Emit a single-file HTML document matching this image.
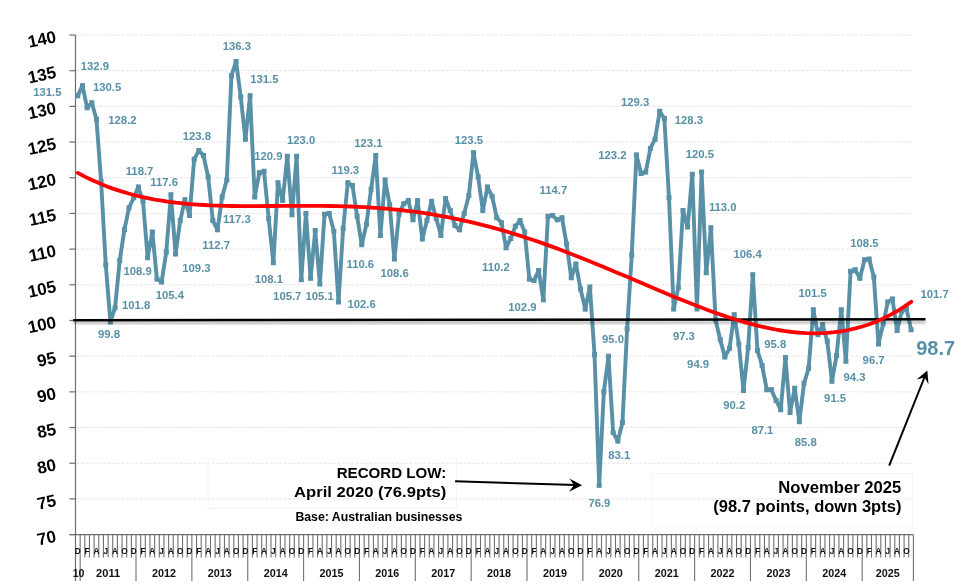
<!DOCTYPE html>
<html><head><meta charset="utf-8"><title>Business Confidence</title>
<style>html,body{margin:0;padding:0;background:#fff;}body{width:968px;height:587px;overflow:hidden;}svg{display:block;will-change:transform;}</style>
</head><body>
<svg width="968" height="587" viewBox="0 0 968 587">
<defs><filter id="sh" x="-5%" y="-200%" width="110%" height="500%"><feGaussianBlur stdDeviation="1.2"/></filter></defs>
<line x1="76.5" y1="498.90" x2="913.4" y2="498.90" stroke="#e5e5e5" stroke-width="1" stroke-dasharray="3 1.5"/>
<line x1="76.5" y1="463.22" x2="913.4" y2="463.22" stroke="#e5e5e5" stroke-width="1" stroke-dasharray="3 1.5"/>
<line x1="76.5" y1="427.53" x2="913.4" y2="427.53" stroke="#e5e5e5" stroke-width="1" stroke-dasharray="3 1.5"/>
<line x1="76.5" y1="391.85" x2="913.4" y2="391.85" stroke="#e5e5e5" stroke-width="1" stroke-dasharray="3 1.5"/>
<line x1="76.5" y1="356.16" x2="913.4" y2="356.16" stroke="#e5e5e5" stroke-width="1" stroke-dasharray="3 1.5"/>
<line x1="76.5" y1="320.48" x2="913.4" y2="320.48" stroke="#e5e5e5" stroke-width="1" stroke-dasharray="3 1.5"/>
<line x1="76.5" y1="284.79" x2="913.4" y2="284.79" stroke="#e5e5e5" stroke-width="1" stroke-dasharray="3 1.5"/>
<line x1="76.5" y1="249.11" x2="913.4" y2="249.11" stroke="#e5e5e5" stroke-width="1" stroke-dasharray="3 1.5"/>
<line x1="76.5" y1="213.42" x2="913.4" y2="213.42" stroke="#e5e5e5" stroke-width="1" stroke-dasharray="3 1.5"/>
<line x1="76.5" y1="177.74" x2="913.4" y2="177.74" stroke="#e5e5e5" stroke-width="1" stroke-dasharray="3 1.5"/>
<line x1="76.5" y1="142.06" x2="913.4" y2="142.06" stroke="#e5e5e5" stroke-width="1" stroke-dasharray="3 1.5"/>
<line x1="76.5" y1="106.37" x2="913.4" y2="106.37" stroke="#e5e5e5" stroke-width="1" stroke-dasharray="3 1.5"/>
<line x1="76.5" y1="70.69" x2="913.4" y2="70.69" stroke="#e5e5e5" stroke-width="1" stroke-dasharray="3 1.5"/>
<line x1="76.5" y1="35.00" x2="913.4" y2="35.00" stroke="#e5e5e5" stroke-width="1" stroke-dasharray="3 1.5"/>
<line x1="75.5" y1="35.0" x2="75.5" y2="581" stroke="#6e6e6e" stroke-width="1.2"/>
<line x1="69.4" y1="534.59" x2="75.5" y2="534.59" stroke="#6e6e6e" stroke-width="1.2"/>
<line x1="69.4" y1="498.90" x2="75.5" y2="498.90" stroke="#6e6e6e" stroke-width="1.2"/>
<line x1="69.4" y1="463.22" x2="75.5" y2="463.22" stroke="#6e6e6e" stroke-width="1.2"/>
<line x1="69.4" y1="427.53" x2="75.5" y2="427.53" stroke="#6e6e6e" stroke-width="1.2"/>
<line x1="69.4" y1="391.85" x2="75.5" y2="391.85" stroke="#6e6e6e" stroke-width="1.2"/>
<line x1="69.4" y1="356.16" x2="75.5" y2="356.16" stroke="#6e6e6e" stroke-width="1.2"/>
<line x1="69.4" y1="320.48" x2="75.5" y2="320.48" stroke="#6e6e6e" stroke-width="1.2"/>
<line x1="69.4" y1="284.79" x2="75.5" y2="284.79" stroke="#6e6e6e" stroke-width="1.2"/>
<line x1="69.4" y1="249.11" x2="75.5" y2="249.11" stroke="#6e6e6e" stroke-width="1.2"/>
<line x1="69.4" y1="213.42" x2="75.5" y2="213.42" stroke="#6e6e6e" stroke-width="1.2"/>
<line x1="69.4" y1="177.74" x2="75.5" y2="177.74" stroke="#6e6e6e" stroke-width="1.2"/>
<line x1="69.4" y1="142.06" x2="75.5" y2="142.06" stroke="#6e6e6e" stroke-width="1.2"/>
<line x1="69.4" y1="106.37" x2="75.5" y2="106.37" stroke="#6e6e6e" stroke-width="1.2"/>
<line x1="69.4" y1="70.69" x2="75.5" y2="70.69" stroke="#6e6e6e" stroke-width="1.2"/>
<line x1="69.4" y1="35.00" x2="75.5" y2="35.00" stroke="#6e6e6e" stroke-width="1.2"/>
<line x1="69.4" y1="534.7" x2="913.40" y2="534.7" stroke="#6e6e6e" stroke-width="1.2"/>
<path d="M80.16 534.7V581 M84.81 534.7V557.5 M89.47 534.7V557.5 M94.12 534.7V557.5 M98.78 534.7V557.5 M103.43 534.7V557.5 M108.09 534.7V557.5 M112.74 534.7V557.5 M117.40 534.7V557.5 M122.05 534.7V557.5 M126.71 534.7V557.5 M131.36 534.7V557.5 M136.01 534.7V581 M140.67 534.7V557.5 M145.32 534.7V557.5 M149.98 534.7V557.5 M154.63 534.7V557.5 M159.29 534.7V557.5 M163.94 534.7V557.5 M168.60 534.7V557.5 M173.25 534.7V557.5 M177.91 534.7V557.5 M182.56 534.7V557.5 M187.22 534.7V557.5 M191.88 534.7V581 M196.53 534.7V557.5 M201.19 534.7V557.5 M205.84 534.7V557.5 M210.50 534.7V557.5 M215.15 534.7V557.5 M219.81 534.7V557.5 M224.46 534.7V557.5 M229.12 534.7V557.5 M233.77 534.7V557.5 M238.43 534.7V557.5 M243.08 534.7V557.5 M247.74 534.7V581 M252.39 534.7V557.5 M257.05 534.7V557.5 M261.70 534.7V557.5 M266.36 534.7V557.5 M271.01 534.7V557.5 M275.67 534.7V557.5 M280.32 534.7V557.5 M284.98 534.7V557.5 M289.63 534.7V557.5 M294.29 534.7V557.5 M298.94 534.7V557.5 M303.60 534.7V581 M308.25 534.7V557.5 M312.90 534.7V557.5 M317.56 534.7V557.5 M322.22 534.7V557.5 M326.87 534.7V557.5 M331.53 534.7V557.5 M336.18 534.7V557.5 M340.84 534.7V557.5 M345.49 534.7V557.5 M350.15 534.7V557.5 M354.80 534.7V557.5 M359.46 534.7V581 M364.11 534.7V557.5 M368.77 534.7V557.5 M373.42 534.7V557.5 M378.07 534.7V557.5 M382.73 534.7V557.5 M387.38 534.7V557.5 M392.04 534.7V557.5 M396.69 534.7V557.5 M401.35 534.7V557.5 M406.00 534.7V557.5 M410.66 534.7V557.5 M415.31 534.7V581 M419.97 534.7V557.5 M424.62 534.7V557.5 M429.28 534.7V557.5 M433.94 534.7V557.5 M438.59 534.7V557.5 M443.25 534.7V557.5 M447.90 534.7V557.5 M452.56 534.7V557.5 M457.21 534.7V557.5 M461.87 534.7V557.5 M466.52 534.7V557.5 M471.18 534.7V581 M475.83 534.7V557.5 M480.49 534.7V557.5 M485.14 534.7V557.5 M489.80 534.7V557.5 M494.45 534.7V557.5 M499.11 534.7V557.5 M503.76 534.7V557.5 M508.42 534.7V557.5 M513.07 534.7V557.5 M517.73 534.7V557.5 M522.38 534.7V557.5 M527.04 534.7V581 M531.69 534.7V557.5 M536.35 534.7V557.5 M541.00 534.7V557.5 M545.65 534.7V557.5 M550.31 534.7V557.5 M554.97 534.7V557.5 M559.62 534.7V557.5 M564.28 534.7V557.5 M568.93 534.7V557.5 M573.59 534.7V557.5 M578.24 534.7V557.5 M582.89 534.7V581 M587.55 534.7V557.5 M592.21 534.7V557.5 M596.86 534.7V557.5 M601.51 534.7V557.5 M606.17 534.7V557.5 M610.83 534.7V557.5 M615.48 534.7V557.5 M620.13 534.7V557.5 M624.79 534.7V557.5 M629.45 534.7V557.5 M634.10 534.7V557.5 M638.75 534.7V581 M643.41 534.7V557.5 M648.07 534.7V557.5 M652.72 534.7V557.5 M657.38 534.7V557.5 M662.03 534.7V557.5 M666.69 534.7V557.5 M671.34 534.7V557.5 M676.00 534.7V557.5 M680.65 534.7V557.5 M685.31 534.7V557.5 M689.96 534.7V557.5 M694.62 534.7V581 M699.27 534.7V557.5 M703.93 534.7V557.5 M708.58 534.7V557.5 M713.24 534.7V557.5 M717.89 534.7V557.5 M722.55 534.7V557.5 M727.20 534.7V557.5 M731.86 534.7V557.5 M736.51 534.7V557.5 M741.17 534.7V557.5 M745.82 534.7V557.5 M750.48 534.7V581 M755.13 534.7V557.5 M759.79 534.7V557.5 M764.44 534.7V557.5 M769.10 534.7V557.5 M773.75 534.7V557.5 M778.41 534.7V557.5 M783.06 534.7V557.5 M787.72 534.7V557.5 M792.37 534.7V557.5 M797.03 534.7V557.5 M801.68 534.7V557.5 M806.34 534.7V581 M810.99 534.7V557.5 M815.65 534.7V557.5 M820.30 534.7V557.5 M824.96 534.7V557.5 M829.61 534.7V557.5 M834.26 534.7V557.5 M838.92 534.7V557.5 M843.58 534.7V557.5 M848.23 534.7V557.5 M852.88 534.7V557.5 M857.54 534.7V557.5 M862.20 534.7V581 M866.85 534.7V557.5 M871.50 534.7V557.5 M876.16 534.7V557.5 M880.82 534.7V557.5 M885.47 534.7V557.5 M890.12 534.7V557.5 M894.78 534.7V557.5 M899.44 534.7V557.5 M904.09 534.7V557.5 M908.75 534.7V557.5 M913.40 534.7V581" stroke="#707070" stroke-width="1.1" fill="none"/>
<g transform="scale(0.86 1)" font-family="Liberation Sans, sans-serif" font-weight="bold" font-size="9.6" text-anchor="middle" fill="#111"><text x="90.50" y="554.1">D</text><text x="101.32" y="554.1">F</text><text x="112.15" y="554.1">A</text><text x="122.97" y="554.1">J</text><text x="133.80" y="554.1">A</text><text x="144.62" y="554.1">O</text><text x="155.45" y="554.1">D</text><text x="166.28" y="554.1">F</text><text x="177.10" y="554.1">A</text><text x="187.93" y="554.1">J</text><text x="198.75" y="554.1">A</text><text x="209.58" y="554.1">O</text><text x="220.40" y="554.1">D</text><text x="231.23" y="554.1">F</text><text x="242.06" y="554.1">A</text><text x="252.88" y="554.1">J</text><text x="263.71" y="554.1">A</text><text x="274.53" y="554.1">O</text><text x="285.36" y="554.1">D</text><text x="296.18" y="554.1">F</text><text x="307.01" y="554.1">A</text><text x="317.83" y="554.1">J</text><text x="328.66" y="554.1">A</text><text x="339.49" y="554.1">O</text><text x="350.31" y="554.1">D</text><text x="361.14" y="554.1">F</text><text x="371.96" y="554.1">A</text><text x="382.79" y="554.1">J</text><text x="393.61" y="554.1">A</text><text x="404.44" y="554.1">O</text><text x="415.26" y="554.1">D</text><text x="426.09" y="554.1">F</text><text x="436.92" y="554.1">A</text><text x="447.74" y="554.1">J</text><text x="458.57" y="554.1">A</text><text x="469.39" y="554.1">O</text><text x="480.22" y="554.1">D</text><text x="491.04" y="554.1">F</text><text x="501.87" y="554.1">A</text><text x="512.69" y="554.1">J</text><text x="523.52" y="554.1">A</text><text x="534.35" y="554.1">O</text><text x="545.17" y="554.1">D</text><text x="556.00" y="554.1">F</text><text x="566.82" y="554.1">A</text><text x="577.65" y="554.1">J</text><text x="588.47" y="554.1">A</text><text x="599.30" y="554.1">O</text><text x="610.12" y="554.1">D</text><text x="620.95" y="554.1">F</text><text x="631.78" y="554.1">A</text><text x="642.60" y="554.1">J</text><text x="653.43" y="554.1">A</text><text x="664.25" y="554.1">O</text><text x="675.08" y="554.1">D</text><text x="685.90" y="554.1">F</text><text x="696.73" y="554.1">A</text><text x="707.56" y="554.1">J</text><text x="718.38" y="554.1">A</text><text x="729.21" y="554.1">O</text><text x="740.03" y="554.1">D</text><text x="750.86" y="554.1">F</text><text x="761.68" y="554.1">A</text><text x="772.51" y="554.1">J</text><text x="783.33" y="554.1">A</text><text x="794.16" y="554.1">O</text><text x="804.99" y="554.1">D</text><text x="815.81" y="554.1">F</text><text x="826.64" y="554.1">A</text><text x="837.46" y="554.1">J</text><text x="848.29" y="554.1">A</text><text x="859.11" y="554.1">O</text><text x="869.94" y="554.1">D</text><text x="880.76" y="554.1">F</text><text x="891.59" y="554.1">A</text><text x="902.42" y="554.1">J</text><text x="913.24" y="554.1">A</text><text x="924.07" y="554.1">O</text><text x="934.89" y="554.1">D</text><text x="945.72" y="554.1">F</text><text x="956.54" y="554.1">A</text><text x="967.37" y="554.1">J</text><text x="978.19" y="554.1">A</text><text x="989.02" y="554.1">O</text><text x="999.85" y="554.1">D</text><text x="1010.67" y="554.1">F</text><text x="1021.50" y="554.1">A</text><text x="1032.32" y="554.1">J</text><text x="1043.15" y="554.1">A</text><text x="1053.97" y="554.1">O</text></g>
<g font-family="Liberation Sans, sans-serif" font-weight="bold" font-size="10.6" text-anchor="middle" fill="#111"><text x="78.6" y="577.1" textLength="11.8" lengthAdjust="spacingAndGlyphs">10</text><text x="108.08" y="577.1" textLength="24" lengthAdjust="spacingAndGlyphs">2011</text><text x="163.94" y="577.1" textLength="24" lengthAdjust="spacingAndGlyphs">2012</text><text x="219.81" y="577.1" textLength="24" lengthAdjust="spacingAndGlyphs">2013</text><text x="275.67" y="577.1" textLength="24" lengthAdjust="spacingAndGlyphs">2014</text><text x="331.53" y="577.1" textLength="24" lengthAdjust="spacingAndGlyphs">2015</text><text x="387.39" y="577.1" textLength="24" lengthAdjust="spacingAndGlyphs">2016</text><text x="443.25" y="577.1" textLength="24" lengthAdjust="spacingAndGlyphs">2017</text><text x="499.11" y="577.1" textLength="24" lengthAdjust="spacingAndGlyphs">2018</text><text x="554.97" y="577.1" textLength="24" lengthAdjust="spacingAndGlyphs">2019</text><text x="610.83" y="577.1" textLength="24" lengthAdjust="spacingAndGlyphs">2020</text><text x="666.68" y="577.1" textLength="24" lengthAdjust="spacingAndGlyphs">2021</text><text x="722.55" y="577.1" textLength="24" lengthAdjust="spacingAndGlyphs">2022</text><text x="778.40" y="577.1" textLength="24" lengthAdjust="spacingAndGlyphs">2023</text><text x="834.27" y="577.1" textLength="24" lengthAdjust="spacingAndGlyphs">2024</text><text x="887.80" y="577.1" textLength="24" lengthAdjust="spacingAndGlyphs">2025</text></g>
<path d="M77.83 95.66L82.48 85.67 M82.48 85.67L87.14 107.80 M87.14 107.80L91.79 102.80 M91.79 102.80L96.45 119.22 M96.45 119.22L101.10 181.31 M101.10 181.31L105.76 264.81 M105.76 264.81L110.41 321.91 M110.41 321.91L115.07 307.63 M115.07 307.63L119.72 260.53 M119.72 260.53L124.38 229.84 M124.38 229.84L129.03 207.72 M129.03 207.72L133.69 197.72 M133.69 197.72L138.34 187.02 M138.34 187.02L143.00 201.29 M143.00 201.29L147.65 257.67 M147.65 257.67L152.31 231.98 M152.31 231.98L156.96 279.09 M156.96 279.09L161.62 281.94 M161.62 281.94L166.27 251.96 M166.27 251.96L170.93 194.87 M170.93 194.87L175.58 254.11 M175.58 254.11L180.24 220.56 M180.24 220.56L184.89 199.86 M184.89 199.86L189.55 215.57 M189.55 215.57L194.20 159.18 M194.20 159.18L198.86 150.62 M198.86 150.62L203.51 155.62 M203.51 155.62L208.17 177.03 M208.17 177.03L212.82 220.56 M212.82 220.56L217.48 229.84 M217.48 229.84L222.13 197.01 M222.13 197.01L226.79 179.88 M226.79 179.88L231.44 75.68 M231.44 75.68L236.10 61.41 M236.10 61.41L240.75 97.09 M240.75 97.09L245.41 139.20 M245.41 139.20L250.06 95.66 M250.06 95.66L254.72 197.01 M254.72 197.01L259.37 172.74 M259.37 172.74L264.03 171.32 M264.03 171.32L268.68 218.42 M268.68 218.42L273.34 262.67 M273.34 262.67L277.99 182.74 M277.99 182.74L282.65 200.58 M282.65 200.58L287.30 156.33 M287.30 156.33L291.96 214.85 M291.96 214.85L296.61 156.33 M296.61 156.33L301.27 279.80 M301.27 279.80L305.92 213.42 M305.92 213.42L310.58 278.37 M310.58 278.37L315.23 230.55 M315.23 230.55L319.89 284.08 M319.89 284.08L324.54 214.14 M324.54 214.14L329.20 213.42 M329.20 213.42L333.85 231.27 M333.85 231.27L338.51 301.92 M338.51 301.92L343.16 228.41 M343.16 228.41L347.82 182.74 M347.82 182.74L352.47 185.59 M352.47 185.59L357.13 216.28 M357.13 216.28L361.78 244.83 M361.78 244.83L366.44 224.13 M366.44 224.13L371.09 189.16 M371.09 189.16L375.75 155.62 M375.75 155.62L380.40 235.55 M380.40 235.55L385.06 179.88 M385.06 179.88L389.71 204.86 M389.71 204.86L394.37 259.10 M394.37 259.10L399.02 214.14 M399.02 214.14L403.68 203.79 M403.68 203.79L408.33 200.58 M408.33 200.58L412.99 219.85 M412.99 219.85L417.64 200.58 M417.64 200.58L422.30 239.12 M422.30 239.12L426.95 220.56 M426.95 220.56L431.61 201.29 M431.61 201.29L436.26 218.42 M436.26 218.42L440.92 235.55 M440.92 235.55L445.57 198.44 M445.57 198.44L450.23 210.57 M450.23 210.57L454.88 225.56 M454.88 225.56L459.54 229.84 M459.54 229.84L464.19 213.42 M464.19 213.42L468.85 195.58 M468.85 195.58L473.50 152.76 M473.50 152.76L478.16 177.03 M478.16 177.03L482.81 210.57 M482.81 210.57L487.47 187.02 M487.47 187.02L492.12 196.30 M492.12 196.30L496.78 217.71 M496.78 217.71L501.43 222.70 M501.43 222.70L506.09 247.68 M506.09 247.68L510.74 238.40 M510.74 238.40L515.40 226.27 M515.40 226.27L520.05 220.56 M520.05 220.56L524.71 231.98 M524.71 231.98L529.36 279.09 M529.36 279.09L534.02 280.51 M534.02 280.51L538.67 270.52 M538.67 270.52L543.33 299.78 M543.33 299.78L547.98 216.28 M547.98 216.28L552.64 215.57 M552.64 215.57L557.29 219.85 M557.29 219.85L561.95 217.71 M561.95 217.71L566.60 244.11 M566.60 244.11L571.26 277.66 M571.26 277.66L575.91 264.10 M575.91 264.10L580.57 289.08 M580.57 289.08L585.22 309.06 M585.22 309.06L589.88 286.94 M589.88 286.94L594.53 354.74 M594.53 354.74L599.19 485.34 M599.19 485.34L603.84 391.85 M603.84 391.85L608.50 356.16 M608.50 356.16L613.15 432.53 M613.15 432.53L617.81 441.10 M617.81 441.10L622.46 422.54 M622.46 422.54L627.12 329.04 M627.12 329.04L631.77 254.82 M631.77 254.82L636.43 154.90 M636.43 154.90L641.08 173.46 M641.08 173.46L645.74 172.03 M645.74 172.03L650.39 148.48 M650.39 148.48L655.05 139.20 M655.05 139.20L659.70 111.37 M659.70 111.37L664.36 118.50 M664.36 118.50L669.01 197.72 M669.01 197.72L673.67 309.06 M673.67 309.06L678.32 287.65 M678.32 287.65L682.98 210.57 M682.98 210.57L687.63 226.99 M687.63 226.99L692.29 174.17 M692.29 174.17L696.94 309.06 M696.94 309.06L701.60 172.03 M701.60 172.03L706.25 272.66 M706.25 272.66L710.91 227.70 M710.91 227.70L715.56 319.77 M715.56 319.77L720.22 339.75 M720.22 339.75L724.87 356.88 M724.87 356.88L729.53 348.31 M729.53 348.31L734.18 314.77 M734.18 314.77L738.84 344.03 M738.84 344.03L743.49 390.42 M743.49 390.42L748.15 347.60 M748.15 347.60L752.80 274.80 M752.80 274.80L757.46 350.46 M757.46 350.46L762.11 365.44 M762.11 365.44L766.77 389.71 M766.77 389.71L771.42 389.71 M771.42 389.71L776.08 400.41 M776.08 400.41L780.73 409.69 M780.73 409.69L785.39 357.59 M785.39 357.59L790.04 412.55 M790.04 412.55L794.70 388.28 M794.70 388.28L799.35 421.83 M799.35 421.83L804.01 383.29 M804.01 383.29L808.66 368.30 M808.66 368.30L813.32 309.77 M813.32 309.77L817.97 334.75 M817.97 334.75L822.63 324.76 M822.63 324.76L827.28 341.18 M827.28 341.18L831.94 381.14 M831.94 381.14L836.59 355.45 M836.59 355.45L841.25 309.77 M841.25 309.77L845.90 361.16 M845.90 361.16L850.56 271.23 M850.56 271.23L855.21 269.81 M855.21 269.81L859.87 278.37 M859.87 278.37L864.52 259.82 M864.52 259.82L869.18 259.10 M869.18 259.10L873.83 276.94 M873.83 276.94L878.49 344.03 M878.49 344.03L883.14 324.05 M883.14 324.05L887.80 301.92 M887.80 301.92L892.45 299.07 M892.45 299.07L897.11 330.47 M897.11 330.47L901.76 311.20 M901.76 311.20L906.42 308.35 M906.42 308.35L911.07 329.76" fill="none" stroke="#5890a7" stroke-width="3.9" stroke-linecap="square"/>
<path d="M75.33 93.16h5v5h-5zM79.98 83.17h5v5h-5zM84.64 105.30h5v5h-5zM89.29 100.30h5v5h-5zM93.95 116.72h5v5h-5zM98.60 178.81h5v5h-5zM103.26 262.31h5v5h-5zM107.91 319.41h5v5h-5zM112.57 305.13h5v5h-5zM117.22 258.03h5v5h-5zM121.88 227.34h5v5h-5zM126.53 205.22h5v5h-5zM131.19 195.22h5v5h-5zM135.84 184.52h5v5h-5zM140.50 198.79h5v5h-5zM145.15 255.17h5v5h-5zM149.81 229.48h5v5h-5zM154.46 276.59h5v5h-5zM159.12 279.44h5v5h-5zM163.77 249.46h5v5h-5zM168.43 192.37h5v5h-5zM173.08 251.61h5v5h-5zM177.74 218.06h5v5h-5zM182.39 197.36h5v5h-5zM187.05 213.07h5v5h-5zM191.70 156.68h5v5h-5zM196.36 148.12h5v5h-5zM201.01 153.12h5v5h-5zM205.67 174.53h5v5h-5zM210.32 218.06h5v5h-5zM214.98 227.34h5v5h-5zM219.63 194.51h5v5h-5zM224.29 177.38h5v5h-5zM228.94 73.18h5v5h-5zM233.60 58.91h5v5h-5zM238.25 94.59h5v5h-5zM242.91 136.70h5v5h-5zM247.56 93.16h5v5h-5zM252.22 194.51h5v5h-5zM256.87 170.24h5v5h-5zM261.53 168.82h5v5h-5zM266.18 215.92h5v5h-5zM270.84 260.17h5v5h-5zM275.49 180.24h5v5h-5zM280.15 198.08h5v5h-5zM284.80 153.83h5v5h-5zM289.46 212.35h5v5h-5zM294.11 153.83h5v5h-5zM298.77 277.30h5v5h-5zM303.42 210.92h5v5h-5zM308.08 275.87h5v5h-5zM312.73 228.05h5v5h-5zM317.39 281.58h5v5h-5zM322.04 211.64h5v5h-5zM326.70 210.92h5v5h-5zM331.35 228.77h5v5h-5zM336.01 299.42h5v5h-5zM340.66 225.91h5v5h-5zM345.32 180.24h5v5h-5zM349.97 183.09h5v5h-5zM354.63 213.78h5v5h-5zM359.28 242.33h5v5h-5zM363.94 221.63h5v5h-5zM368.59 186.66h5v5h-5zM373.25 153.12h5v5h-5zM377.90 233.05h5v5h-5zM382.56 177.38h5v5h-5zM387.21 202.36h5v5h-5zM391.87 256.60h5v5h-5zM396.52 211.64h5v5h-5zM401.18 201.29h5v5h-5zM405.83 198.08h5v5h-5zM410.49 217.35h5v5h-5zM415.14 198.08h5v5h-5zM419.80 236.62h5v5h-5zM424.45 218.06h5v5h-5zM429.11 198.79h5v5h-5zM433.76 215.92h5v5h-5zM438.42 233.05h5v5h-5zM443.07 195.94h5v5h-5zM447.73 208.07h5v5h-5zM452.38 223.06h5v5h-5zM457.04 227.34h5v5h-5zM461.69 210.92h5v5h-5zM466.35 193.08h5v5h-5zM471.00 150.26h5v5h-5zM475.66 174.53h5v5h-5zM480.31 208.07h5v5h-5zM484.97 184.52h5v5h-5zM489.62 193.80h5v5h-5zM494.28 215.21h5v5h-5zM498.93 220.20h5v5h-5zM503.59 245.18h5v5h-5zM508.24 235.90h5v5h-5zM512.90 223.77h5v5h-5zM517.55 218.06h5v5h-5zM522.21 229.48h5v5h-5zM526.86 276.59h5v5h-5zM531.52 278.01h5v5h-5zM536.17 268.02h5v5h-5zM540.83 297.28h5v5h-5zM545.48 213.78h5v5h-5zM550.14 213.07h5v5h-5zM554.79 217.35h5v5h-5zM559.45 215.21h5v5h-5zM564.10 241.61h5v5h-5zM568.76 275.16h5v5h-5zM573.41 261.60h5v5h-5zM578.07 286.58h5v5h-5zM582.72 306.56h5v5h-5zM587.38 284.44h5v5h-5zM592.03 352.24h5v5h-5zM596.69 482.84h5v5h-5zM601.34 389.35h5v5h-5zM606.00 353.66h5v5h-5zM610.65 430.03h5v5h-5zM615.31 438.60h5v5h-5zM619.96 420.04h5v5h-5zM624.62 326.54h5v5h-5zM629.27 252.32h5v5h-5zM633.93 152.40h5v5h-5zM638.58 170.96h5v5h-5zM643.24 169.53h5v5h-5zM647.89 145.98h5v5h-5zM652.55 136.70h5v5h-5zM657.20 108.87h5v5h-5zM661.86 116.00h5v5h-5zM666.51 195.22h5v5h-5zM671.17 306.56h5v5h-5zM675.82 285.15h5v5h-5zM680.48 208.07h5v5h-5zM685.13 224.49h5v5h-5zM689.79 171.67h5v5h-5zM694.44 306.56h5v5h-5zM699.10 169.53h5v5h-5zM703.75 270.16h5v5h-5zM708.41 225.20h5v5h-5zM713.06 317.27h5v5h-5zM717.72 337.25h5v5h-5zM722.37 354.38h5v5h-5zM727.03 345.81h5v5h-5zM731.68 312.27h5v5h-5zM736.34 341.53h5v5h-5zM740.99 387.92h5v5h-5zM745.65 345.10h5v5h-5zM750.30 272.30h5v5h-5zM754.96 347.96h5v5h-5zM759.61 362.94h5v5h-5zM764.27 387.21h5v5h-5zM768.92 387.21h5v5h-5zM773.58 397.91h5v5h-5zM778.23 407.19h5v5h-5zM782.89 355.09h5v5h-5zM787.54 410.05h5v5h-5zM792.20 385.78h5v5h-5zM796.85 419.33h5v5h-5zM801.51 380.79h5v5h-5zM806.16 365.80h5v5h-5zM810.82 307.27h5v5h-5zM815.47 332.25h5v5h-5zM820.13 322.26h5v5h-5zM824.78 338.68h5v5h-5zM829.44 378.64h5v5h-5zM834.09 352.95h5v5h-5zM838.75 307.27h5v5h-5zM843.40 358.66h5v5h-5zM848.06 268.73h5v5h-5zM852.71 267.31h5v5h-5zM857.37 275.87h5v5h-5zM862.02 257.32h5v5h-5zM866.68 256.60h5v5h-5zM871.33 274.44h5v5h-5zM875.99 341.53h5v5h-5zM880.64 321.55h5v5h-5zM885.30 299.42h5v5h-5zM889.95 296.57h5v5h-5zM894.61 327.97h5v5h-5zM899.26 308.70h5v5h-5zM903.92 305.85h5v5h-5zM908.57 327.26h5v5h-5z" fill="#5890a7"/>
<line x1="73.3" y1="323" x2="925.5" y2="322.3" stroke="#000" stroke-opacity="0.27" stroke-width="2.6" filter="url(#sh)"/>
<line x1="73.3" y1="320.2" x2="925.5" y2="319.3" stroke="#000" stroke-width="2.5"/>
<polyline points="77.8,172.9 84.8,176.6 91.8,180.0 98.8,183.1 105.8,186.0 112.8,188.6 119.8,190.9 126.8,193.0 133.8,195.0 140.8,196.7 147.8,198.2 154.8,199.6 161.9,200.7 168.9,201.8 175.9,202.7 182.9,203.4 189.9,204.1 196.9,204.6 203.9,205.0 210.9,205.4 217.9,205.6 224.9,205.8 231.9,206.0 238.9,206.1 245.9,206.1 252.9,206.1 259.9,206.1 266.9,206.0 273.9,206.0 280.9,205.9 287.9,205.9 294.9,205.8 301.9,205.8 308.9,205.8 315.9,205.8 322.9,205.9 330.0,206.0 337.0,206.1 344.0,206.3 351.0,206.5 358.0,206.8 365.0,207.2 372.0,207.6 379.0,208.1 386.0,208.7 393.0,209.3 400.0,210.0 407.0,210.8 414.0,211.7 421.0,212.7 428.0,213.7 435.0,214.9 442.0,216.1 449.0,217.4 456.0,218.8 463.0,220.3 470.0,221.9 477.0,223.6 484.0,225.3 491.0,227.2 498.1,229.1 505.1,231.1 512.1,233.2 519.1,235.4 526.1,237.7 533.1,240.0 540.1,242.4 547.1,244.9 554.1,247.4 561.1,250.0 568.1,252.7 575.1,255.4 582.1,258.2 589.1,261.0 596.1,263.9 603.1,266.8 610.1,269.7 617.1,272.7 624.1,275.6 631.1,278.6 638.1,281.6 645.1,284.6 652.1,287.6 659.1,290.5 666.2,293.5 673.2,296.4 680.2,299.3 687.2,302.1 694.2,304.8 701.2,307.5 708.2,310.2 715.2,312.7 722.2,315.1 729.2,317.5 736.2,319.7 743.2,321.8 750.2,323.7 757.2,325.6 764.2,327.2 771.2,328.7 778.2,330.0 785.2,331.1 792.2,332.0 799.2,332.6 806.2,333.1 813.2,333.3 820.2,333.2 827.2,332.8 834.3,332.2 841.3,331.3 848.3,330.0 855.3,328.4 862.3,326.5 869.3,324.2 876.3,321.5 883.3,318.4 890.3,314.9 897.3,311.0 904.3,306.6 911.3,301.7" fill="none" stroke="#ff0000" stroke-width="3.8" stroke-linecap="round" stroke-linejoin="round"/>
<g font-family="Liberation Sans, sans-serif" font-weight="bold" font-size="11.3" fill="#5890a7"><text x="33.2" y="96.4">131.5</text><text x="80.8" y="70.3">132.9</text><text x="93.0" y="90.6">130.5</text><text x="108.3" y="123.6">128.2</text><text x="125.7" y="175.1">118.7</text><text x="150.3" y="185.8">117.6</text><text x="123.5" y="274.5">108.9</text><text x="121.9" y="309.1">101.8</text><text x="98.0" y="337.9">99.8</text><text x="155.7" y="299.0">105.4</text><text x="182.3" y="271.7">109.3</text><text x="182.7" y="140.1">123.8</text><text x="202.3" y="249.3">112.7</text><text x="223.1" y="223.3">117.3</text><text x="222.7" y="50.3">136.3</text><text x="250.2" y="82.5">131.5</text><text x="254.2" y="159.8">120.9</text><text x="254.7" y="283.1">108.1</text><text x="286.9" y="144.4">123.0</text><text x="273.1" y="299.9">105.7</text><text x="305.5" y="300.1">105.1</text><text x="347.5" y="307.6">102.6</text><text x="331.5" y="174.0">119.3</text><text x="354.3" y="147.1">123.1</text><text x="346.5" y="267.7">110.6</text><text x="380.5" y="276.9">108.6</text><text x="454.8" y="144.0">123.5</text><text x="482.1" y="271.1">110.2</text><text x="508.3" y="311.3">102.9</text><text x="539.6" y="193.6">114.7</text><text x="602.0" y="343.1">95.0</text><text x="608.3" y="458.9">83.1</text><text x="588.4" y="506.7">76.9</text><text x="598.2" y="158.9">123.2</text><text x="621.0" y="106.1">129.3</text><text x="674.8" y="124.1">128.3</text><text x="685.7" y="158.2">120.5</text><text x="708.9" y="211.0">113.0</text><text x="672.9" y="339.8">97.3</text><text x="687.1" y="367.6">94.9</text><text x="733.4" y="257.7">106.4</text><text x="723.3" y="409.1">90.2</text><text x="764.2" y="347.7">95.8</text><text x="751.4" y="433.6">87.1</text><text x="794.8" y="445.9">85.8</text><text x="798.5" y="297.2">101.5</text><text x="824.1" y="402.4">91.5</text><text x="843.5" y="381.3">94.3</text><text x="850.3" y="246.7">108.5</text><text x="862.6" y="363.5">96.7</text><text x="920.5" y="297.8">101.7</text></g>
<text x="916.2" y="354.6" font-family="Liberation Sans, sans-serif" font-weight="bold" font-size="20" fill="#5890a7">98.7</text>
<g font-family="Liberation Sans, sans-serif" font-weight="bold" font-size="17" text-anchor="end" fill="#000"><text transform="translate(42,539.1) rotate(-12)" x="14.2" y="5.5">70</text><text transform="translate(42,503.4) rotate(-12)" x="14.2" y="5.5">75</text><text transform="translate(42,467.7) rotate(-12)" x="14.2" y="5.5">80</text><text transform="translate(42,432.0) rotate(-12)" x="14.2" y="5.5">85</text><text transform="translate(42,396.3) rotate(-12)" x="14.2" y="5.5">90</text><text transform="translate(42,360.7) rotate(-12)" x="14.2" y="5.5">95</text><text transform="translate(42,325.0) rotate(-12)" x="14.2" y="5.5">100</text><text transform="translate(42,289.3) rotate(-12)" x="14.2" y="5.5">105</text><text transform="translate(42,253.6) rotate(-12)" x="14.2" y="5.5">110</text><text transform="translate(42,217.9) rotate(-12)" x="14.2" y="5.5">115</text><text transform="translate(42,182.2) rotate(-12)" x="14.2" y="5.5">120</text><text transform="translate(42,146.6) rotate(-12)" x="14.2" y="5.5">125</text><text transform="translate(42,110.9) rotate(-12)" x="14.2" y="5.5">130</text><text transform="translate(42,75.2) rotate(-12)" x="14.2" y="5.5">135</text><text transform="translate(42,39.5) rotate(-12)" x="14.2" y="5.5">140</text></g>
<rect x="208" y="459" width="248.4" height="49.4" fill="none" stroke="#eef3f9" stroke-width="0.8"/>
<rect x="651.5" y="473.4" width="260.9" height="53.6" fill="none" stroke="#eef3f9" stroke-width="0.8"/>
<g font-family="Liberation Sans, sans-serif" font-weight="bold" fill="#000">
<text x="336.7" y="478.4" font-size="15" textLength="109.7" lengthAdjust="spacingAndGlyphs">RECORD LOW:</text>
<text x="294.1" y="496.6" font-size="15" textLength="152.3" lengthAdjust="spacingAndGlyphs">April 2020 (76.9pts)</text>
<text x="295.4" y="520.5" font-size="12.7" textLength="167" lengthAdjust="spacingAndGlyphs">Base: Australian businesses</text>
<text x="778.3" y="492.6" font-size="16.2" textLength="123.1" lengthAdjust="spacingAndGlyphs">November 2025</text>
<text x="713.2" y="511.6" font-size="16.2" textLength="188.2" lengthAdjust="spacingAndGlyphs">(98.7 points, down 3pts)</text>
</g>
<line x1="455.1" y1="481.2" x2="576" y2="485.1" stroke="#000" stroke-width="2"/>
<path d="M582.1 485.3 L569.3 478.6 L574 485.1 L569 491.7 Z" fill="#000"/>
<line x1="889.2" y1="465.7" x2="925" y2="376" stroke="#000" stroke-width="2"/>
<path d="M927.3 370.4 L916.6 379.6 L924.7 377.5 L928.5 384.3 Z" fill="#000"/>
</svg>
</body></html>
